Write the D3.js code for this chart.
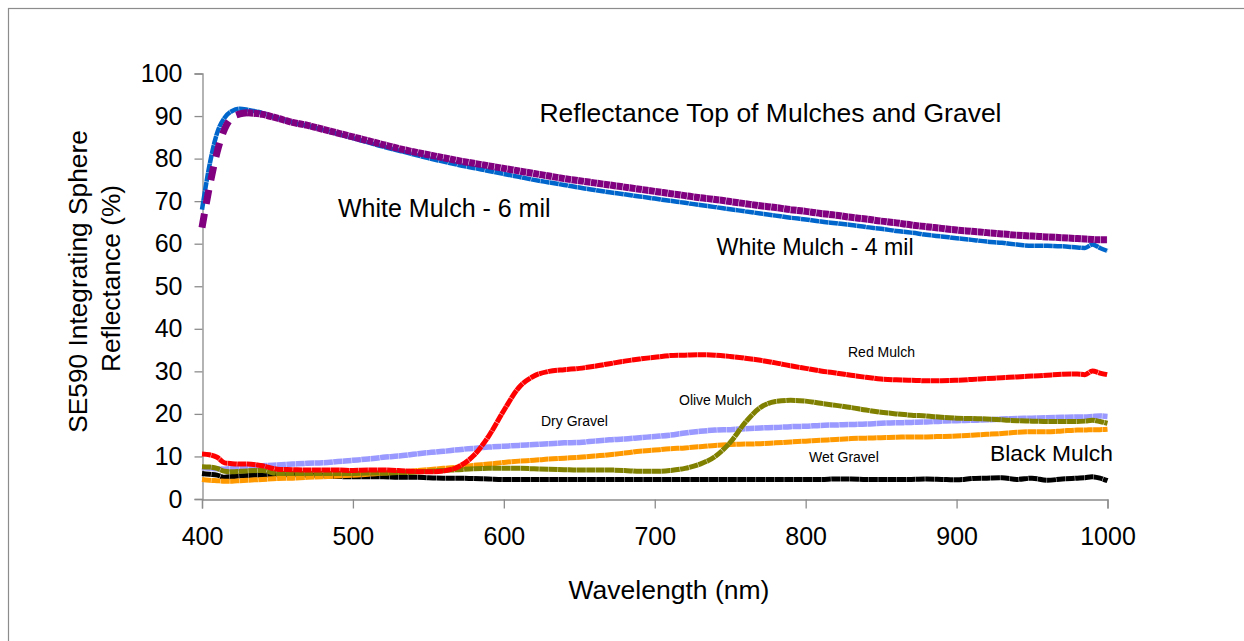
<!DOCTYPE html>
<html>
<head>
<meta charset="utf-8">
<script src="https://cdn.jsdelivr.net/npm/d3@7"></script>
<style>
  html, body { margin: 0; padding: 0; background: #fff; }
  svg { display: block; }
  text { font-family: "Liberation Sans", Arial, sans-serif; fill: #000; }
</style>
</head>
<body>
<svg id="chart" width="1244" height="641"></svg>
<script>
// ---------- data ----------
const wavelength = [400,405,410,415,420,425,430,
  440,450,460,470,480,490,500,510,520,530,540,550,560,570,580,590,600,610,620,630,640,650,660,670,680,690,700,
  710,720,730,740,750,760,770,780,790,800,810,820,830,840,850,860,870,880,890,900,910,920,930,940,950,960,970,980,
  985,990,995,1000];

const whiteMulch4 = [68.0,78.5,86.0,89.6,91.2,91.7,91.5,
  90.7,89.5,88.5,87.7,86.8,85.8,84.8,83.8,82.8,81.9,81.0,80.1,79.3,78.5,77.8,77.1,76.4,75.7,75.0,74.4,73.8,73.2,72.6,72.1,71.6,71.1,70.6,
  70.1,69.6,69.1,68.6,68.1,67.6,67.1,66.6,66.1,65.7,65.2,64.8,64.4,63.9,63.5,63.0,62.6,62.1,61.7,61.3,60.9,60.5,60.2,59.8,59.5,59.5,59.4,59.1,
  59.0,59.8,59.0,58.3];

const whiteMulch6 = [63.8,73.5,81.5,87.0,89.7,90.5,90.8,
  90.4,89.5,88.5,87.8,86.9,86.0,85.1,84.2,83.3,82.4,81.6,80.9,80.2,79.5,78.9,78.3,77.7,77.1,76.5,75.9,75.3,74.8,74.3,73.8,73.3,72.8,72.3,
  71.8,71.3,70.8,70.4,69.9,69.4,68.9,68.5,68.0,67.6,67.1,66.7,66.2,65.8,65.3,64.9,64.4,64.0,63.6,63.2,62.9,62.6,62.3,62.0,61.8,61.6,61.4,61.2,
  61.1,61.0,60.9,60.9];

const redMulch = [10.6,10.4,9.8,8.5,8.3,8.2,8.2,
  7.8,7.0,6.9,6.8,6.8,6.8,6.7,6.8,6.8,6.7,6.5,6.4,6.6,7.6,10.2,14.8,20.8,26.2,28.9,30.0,30.4,30.7,31.2,31.8,32.4,32.9,33.3,
  33.7,33.8,33.9,33.8,33.5,33.1,32.6,32.0,31.3,30.7,30.1,29.6,29.1,28.6,28.2,28.0,27.9,27.8,27.8,27.9,28.1,28.3,28.5,28.7,28.9,29.1,29.3,29.4,
  29.2,30.1,29.6,29.2];

const oliveMulch = [7.6,7.5,7.2,6.5,6.4,6.5,6.6,
  6.7,6.0,6.0,6.0,6.0,6.0,6.0,6.1,6.1,6.2,6.3,6.5,6.7,6.9,7.1,7.2,7.2,7.2,7.1,7.0,6.9,6.8,6.8,6.8,6.7,6.5,6.5,
  6.7,7.2,8.2,10.0,13.3,18.0,21.5,22.9,23.2,23.0,22.5,22.0,21.5,20.9,20.4,20.0,19.7,19.5,19.2,19.0,18.9,18.8,18.6,18.4,18.3,18.2,18.2,18.2,
  18.3,18.5,18.2,17.8];

const dryGravel = [7.4,7.2,7.1,7.0,7.2,7.3,7.5,
  7.8,8.0,8.2,8.4,8.5,8.8,9.1,9.4,9.8,10.1,10.5,10.9,11.2,11.6,11.9,12.2,12.4,12.6,12.8,13.0,13.2,13.3,13.6,13.9,14.1,14.4,14.7,
  15.0,15.5,15.9,16.2,16.3,16.5,16.7,16.8,17.0,17.1,17.3,17.4,17.5,17.6,17.8,17.9,18.0,18.1,18.3,18.4,18.5,18.6,18.8,18.9,19.0,19.1,19.2,19.3,
  19.3,19.4,19.5,19.4];

const wetGravel = [4.6,4.4,4.3,4.2,4.2,4.3,4.4,
  4.6,4.8,4.9,5.1,5.2,5.4,5.6,5.8,6.1,6.3,6.6,6.9,7.2,7.5,7.9,8.2,8.6,8.9,9.1,9.4,9.6,9.8,10.1,10.4,10.8,11.2,11.5,
  11.8,12.0,12.3,12.6,12.8,12.9,13.0,13.2,13.4,13.6,13.8,14.0,14.2,14.3,14.4,14.5,14.6,14.6,14.7,14.8,15.0,15.2,15.4,15.7,15.8,15.8,16.0,16.2,
  16.2,16.3,16.3,16.4];

const blackMulch = [6.0,5.8,5.6,5.1,5.3,5.4,5.5,
  5.6,5.7,5.7,5.6,5.5,5.3,5.2,5.2,5.2,5.1,5.1,5.0,4.9,4.9,4.8,4.7,4.6,4.6,4.6,4.6,4.6,4.6,4.6,4.6,4.6,4.6,4.6,
  4.6,4.6,4.6,4.6,4.6,4.6,4.6,4.6,4.6,4.6,4.6,4.7,4.7,4.6,4.6,4.6,4.6,4.7,4.6,4.5,4.8,4.9,5.0,4.6,4.9,4.4,4.7,4.9,
  5.0,5.2,4.9,4.3];

const xTicks = [400,500,600,700,800,900,1000];
const yTicks = [0,10,20,30,40,50,60,70,80,90,100];

const chartTitle = "Reflectance Top of Mulches and Gravel";
const xTitle = "Wavelength (nm)";
const yTitleLines = ["SE590 Integrating Sphere", "Reflectance (%)"];

// ---------- setup ----------
const svg = d3.select("#chart");

svg.append("rect")
  .attr("x", 8.5).attr("y", 8.5)
  .attr("width", 1400).attr("height", 800)
  .attr("fill", "none").attr("stroke", "#8c8c8c").attr("stroke-width", 1.2);

const x = d3.scaleLinear().domain([400, 1000]).range([202, 1107.5]);
const y = d3.scaleLinear().domain([0, 100]).range([499, 73.5]);

// axes
const axisColor = "#8c8c8c";
const gy = svg.append("g").attr("transform", "translate(202.5,0)")
  .call(d3.axisLeft(y).tickValues(yTicks).tickSize(8).tickPadding(12).tickFormat(d3.format("d")));
const gx = svg.append("g").attr("transform", "translate(0,499.5)")
  .call(d3.axisBottom(x).tickValues(xTicks).tickSize(9).tickPadding(19).tickFormat(d3.format("d")));
[gx, gy].forEach(g => {
  g.select(".domain").attr("stroke", axisColor).attr("stroke-width", 1.3);
  g.selectAll(".tick line").attr("stroke", axisColor).attr("stroke-width", 1.3);
  g.selectAll(".tick text").attr("font-size", 25).attr("fill", "#000")
    .attr("font-family", '"Liberation Sans", Arial, sans-serif');
});

// ---------- series ----------
const line = d3.line().x(d => x(d[0])).y(d => y(d[1])).curve(d3.curveMonotoneX);
const pairs = vals => wavelength.map((w, i) => [w, vals[i]]);

const series = [
  { vals: blackMulch, color: "#000000", width: 5 },
  { vals: wetGravel, color: "#ff9900", width: 5 },
  { vals: dryGravel, color: "#9999ff", width: 5.5 },
  { vals: oliveMulch, color: "#808000", width: 5 },
  { vals: redMulch, color: "#ff0000", width: 5 },
  { vals: whiteMulch4, color: "#0066cc", width: 4.5 },
];

const texture = "9,0.4"; // faint seams between sample points, like the original
const gLines = svg.append("g");
series.forEach(s => {
  gLines.append("path")
    .attr("d", line(pairs(s.vals)))
    .attr("fill", "none")
    .attr("stroke", s.color)
    .attr("stroke-width", s.width)
    .attr("stroke-dasharray", texture)
    .attr("stroke-linejoin", "round");
});

// White Mulch - 6 mil: square-dot look, dashes visible on the steep start
const purple = pairs(whiteMulch6);
const headN = 7; // 400..430
gLines.append("path")
  .attr("d", line(purple.slice(0, headN)))
  .attr("fill", "none").attr("stroke", "#800080").attr("stroke-width", 7)
  .attr("stroke-dasharray", "14,10");
gLines.append("path")
  .attr("d", line(purple.slice(headN - 1)))
  .attr("fill", "none").attr("stroke", "#800080").attr("stroke-width", 7)
  .attr("stroke-dasharray", "6,0.5")
  .attr("stroke-linejoin", "round");

// ---------- texts ----------
svg.append("text").attr("x", 770.5).attr("y", 121.5)
  .attr("text-anchor", "middle").attr("font-size", 26.5).text(chartTitle);

svg.append("text").attr("x", 669).attr("y", 599)
  .attr("text-anchor", "middle").attr("font-size", 26.5).text(xTitle);

svg.append("text").attr("transform", "translate(86.5,281.5) rotate(-90)")
  .attr("text-anchor", "middle").attr("font-size", 26.3).text(yTitleLines[0]);
svg.append("text").attr("transform", "translate(119.5,278.5) rotate(-90)")
  .attr("text-anchor", "middle").attr("font-size", 26.3).text(yTitleLines[1]);

const labels = [
  { t: "White Mulch - 6 mil", x: 338, y: 217, s: 25 },
  { t: "White Mulch - 4 mil", x: 716.5, y: 254.5, s: 23.2 },
  { t: "Red Mulch", x: 848, y: 357, s: 14 },
  { t: "Olive Mulch", x: 679, y: 405, s: 14 },
  { t: "Dry Gravel", x: 541, y: 426, s: 14 },
  { t: "Wet Gravel", x: 809, y: 461.5, s: 14 },
  { t: "Black Mulch", x: 990, y: 460.5, s: 22.8 },
];
labels.forEach(l => {
  svg.append("text").attr("x", l.x).attr("y", l.y).attr("font-size", l.s).text(l.t);
});
</script>
</body>
</html>
